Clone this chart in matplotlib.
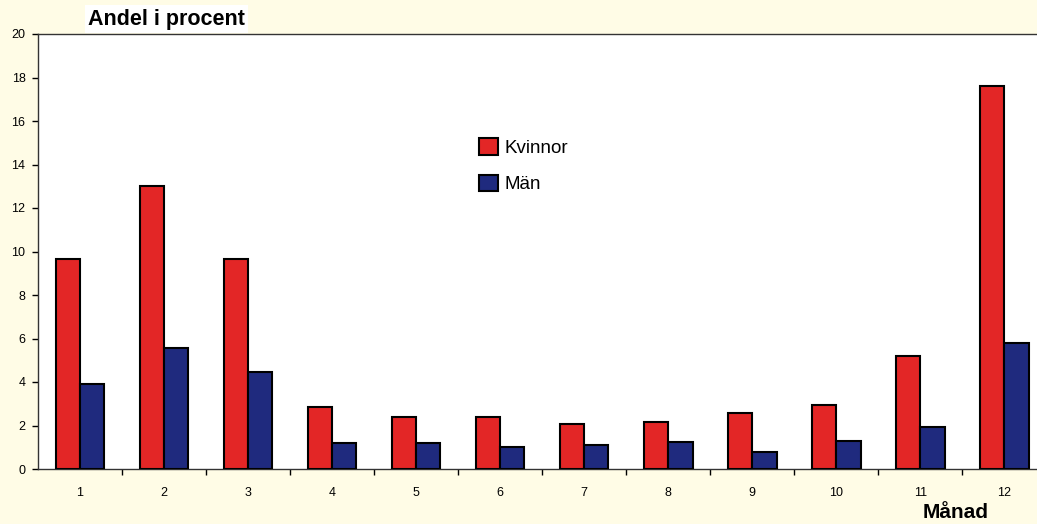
import matplotlib
matplotlib.use("Agg")
import matplotlib.pyplot as plt
import numpy as np

months = ["1", "2", "3", "4", "5", "6", "7", "8", "9", "10", "11", "12"]
kvinnor = [9.65, 13.0, 9.65, 2.85, 2.4, 2.4, 2.07, 2.16, 2.57, 2.94, 5.2, 17.6]
man = [3.9, 5.56, 4.46, 1.2, 1.2, 1.0, 1.1, 1.24, 0.78, 1.29, 1.93, 5.79]
yticks = [0, 2, 4, 6, 8, 10, 12, 14, 16, 18, 20]

plt.rcParams["font.family"] = ["Liberation Sans", "DejaVu Sans"]

bg = "#fffce6"
fig = plt.figure(figsize=(10.37, 5.24), dpi=100, facecolor=bg)
ax = fig.add_axes([38 / 1037, 55 / 524, 1 - 38 / 1037, 435 / 524])
ax.set_facecolor("white")

x = np.arange(1, len(months) + 1)
w = 0.29
ax.bar(x - w / 2, kvinnor, width=w, color="#e32626", edgecolor="black",
       linewidth=1.5, label="Kvinnor", zorder=3)
ax.bar(x + w / 2, man, width=w, color="#1f2a7e", edgecolor="black",
       linewidth=1.5, label="Män", zorder=3)

ax.set_xlim(0.5, 12.39)
ax.set_ylim(0, 20)
ax.set_yticks(yticks)
ax.set_yticklabels([str(v) for v in yticks], fontsize=9)

ax.set_xticks(x)
ax.set_xticklabels(months, fontsize=9)
ax.tick_params(axis="x", which="major", length=0, pad=13)
ax.set_xticks(np.arange(1.5, 12.5, 1), minor=True)
ax.tick_params(axis="x", which="minor", length=4, direction="out", width=1)
ax.tick_params(axis="y", length=4, direction="out", width=1, pad=5)

for s in ["left", "bottom", "top"]:
    ax.spines[s].set_linewidth(1.0)
    ax.spines[s].set_color("#333333")
ax.spines["right"].set_visible(False)

leg = ax.legend(loc="upper left", bbox_to_anchor=(424 / 999, 0.80),
                frameon=False, fontsize=13.5, handlelength=1.0,
                handleheight=1.0, labelspacing=0.95, handletextpad=0.35)

fig.text(88 / 1037, 1 - 19 / 524, "Andel i procent", fontsize=15.5,
         fontweight="bold", va="center", ha="left",
         bbox=dict(facecolor="white", edgecolor="none", pad=2.5))
fig.text(956 / 1037, 1 - 513 / 524, "Månad", fontsize=15,
         fontweight="bold", va="center", ha="center")

fig.savefig("out.png", dpi=100, facecolor=bg)
